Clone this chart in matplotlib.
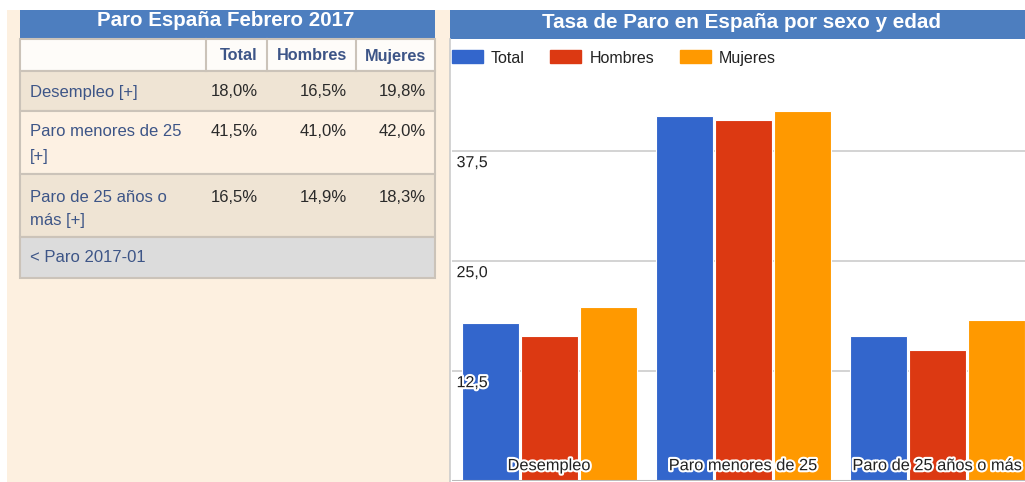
import matplotlib
matplotlib.use('Agg')
import matplotlib.pyplot as plt
import matplotlib.patheffects as pe
from matplotlib.patches import Rectangle, Patch

plt.rcParams['font.family'] = ['Liberation Sans', 'DejaVu Sans']

categories = ['Desempleo', 'Paro menores de 25', 'Paro de 25 años o más']
row_labels = ['Desempleo [+]', 'Paro menores de 25\n[+]', 'Paro de 25 años o\nmás [+]']
series_names = ['Total', 'Hombres', 'Mujeres']
total = [18.0, 41.5, 16.5]
hombres = [16.5, 41.0, 14.9]
mujeres = [19.8, 42.0, 18.3]
yticks = [12.5, 25.0, 37.5]

colors = ['#3366cc', '#dc3912', '#ff9900']
blue_bar = '#4d7ebf'
page_bg = '#fdf0e0'
border = '#cbc3b9'
label_col = '#3d5587'


def fmt(v):
    return f'{v:.1f}'.replace('.', ',')


W, H = 1025, 482
fig = plt.figure(figsize=(W / 100, H / 100), dpi=100)
fig.patch.set_facecolor('white')

# background layer in pixel coordinates (y down)
bg = fig.add_axes([0, 0, 1, 1])
bg.set_xlim(0, W)
bg.set_ylim(H, 0)
bg.axis('off')
bg.add_patch(Rectangle((7, 10), 443, 472, color=page_bg, lw=0))

# ---- table ----
tx0, tx1 = 20, 435
bg.add_patch(Rectangle((tx0, 10), tx1 - tx0, 29, color=blue_bar, lw=0))
bg.text(226, 21, 'Paro España Febrero 2017', color='white',
        fontsize=14.8, fontweight='bold', ha='center', va='center')

rows_y = [39, 71, 111, 174, 237, 278]
row_bg = ['#fefcf9', '#efe4d4', '#fdf1e3', '#efe4d4', '#dcdcdc']
for i, c in enumerate(row_bg):
    bg.add_patch(Rectangle((tx0, rows_y[i]), tx1 - tx0, rows_y[i + 1] - rows_y[i],
                           facecolor=c, edgecolor=border, lw=1.5))

# header cells
col_edges = [tx0, 206, 267, 356, tx1]
for x in col_edges[1:-1]:
    bg.plot([x, x], [39, 71], color=border, lw=1.5)
num_right = [258, 347, 426]
for name, xr in zip(series_names, num_right):
    bg.text(xr, 56, name, color=label_col, fontsize=11.7, fontweight='bold',
            ha='right', va='center')

# data rows
for i, lab in enumerate(row_labels):
    y = [92, 132, 197][i]
    for k, line in enumerate(lab.split('\n')):
        bg.text(30, y + 24 * k, line, color=label_col, fontsize=12,
                ha='left', va='center')
    for vals, xr in zip([total, hombres, mujeres], num_right):
        bg.text(xr, y, fmt(vals[i]) + '%', color='#2a2a2a', fontsize=12,
                ha='right', va='center')
bg.text(30, 257, '< Paro 2017-01', color=label_col, fontsize=12,
        ha='left', va='center')

# ---- chart panel ----
cx0 = 450
bg.add_patch(Rectangle((cx0, 10), W - cx0, 472, color='white', lw=0))
bg.plot([cx0 - 0.5, cx0 - 0.5], [39, H], color='#cccccc', lw=1.2)
bg.add_patch(Rectangle((cx0, 10), W - cx0, 29, color=blue_bar, lw=0))
bg.text(742, 22, 'Tasa de Paro en España por sexo y edad', color='white',
        fontsize=14.9, fontweight='bold', ha='center', va='center')

# bar axes: left 452px, right 1025px, bottom 481px, top 75px
ax_left, ax_bottom, ax_top = 452, 481, 75
ax = fig.add_axes([ax_left / W, (H - ax_bottom) / H, (W - ax_left) / W,
                   (ax_bottom - ax_top) / H])
ax.set_facecolor('none')
group_px = 194
ax.set_xlim(-0.5, -0.5 + (W - ax_left) / group_px)
ax.set_ylim(0, (ax_bottom - ax_top) / 8.8)

width = 57 / group_px
step = 59 / group_px
x = list(range(len(categories)))
handles = []
for j, (vals, c, name) in enumerate(zip([total, hombres, mujeres], colors, series_names)):
    ax.bar([xi + (j - 1) * step for xi in x], vals, width=width, color=c,
           edgecolor='white', linewidth=0.8, zorder=3, label=name)
    handles.append(Patch(facecolor=c, edgecolor=c, label=name))

halo = [pe.withStroke(linewidth=3, foreground='white')]
for t in yticks:
    ax.axhline(t, color='#cccccc', lw=1.2, zorder=1)
    ax.annotate(fmt(t), (0.008, t), xycoords=('axes fraction', 'data'),
                xytext=(0, -3), textcoords='offset points', ha='left', va='top',
                fontsize=11.5, color='#222222', path_effects=halo, zorder=5)
ax.axhline(0, color='#bbbbbb', lw=1.5, zorder=4)

for xi, cat in zip(x, categories):
    ax.annotate(cat, (xi, 0), xytext=(0, 11), textcoords='offset points',
                ha='center', va='center', fontsize=11.8, color='#222222',
                path_effects=halo, zorder=6)

ax.set_xticks([])
ax.set_yticks([])
for s in ax.spines.values():
    s.set_visible(False)

fig.legend(handles=handles, loc='center left',
           bbox_to_anchor=(452 / W, (H - 58) / H), ncol=3, frameon=False,
           fontsize=11.5, handlelength=1.94, handleheight=0.875,
           handletextpad=0.5, columnspacing=1.6, borderpad=0, borderaxespad=0,
           labelcolor='#222222')

fig.savefig('out.png', dpi=100)
